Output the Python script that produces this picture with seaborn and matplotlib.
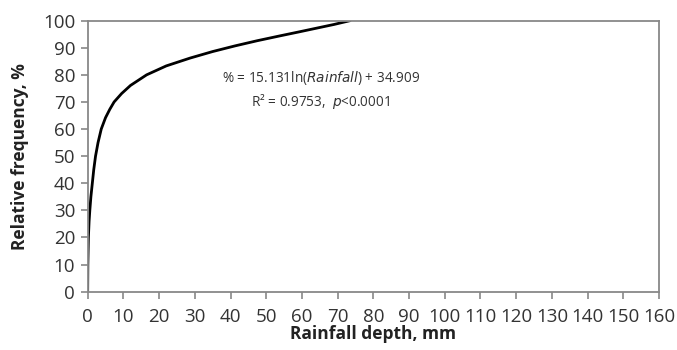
import numpy as np
import pandas as pd
import matplotlib
matplotlib.use('Agg')
import matplotlib.pyplot as plt
import seaborn as sns

# pontos (profundidade de chuva x frequencia relativa)
rainfall_mm = [0, 0.05, 0.2, 0.4, 0.6, 0.9, 1.3, 1.7, 2.2, 2.9, 3.8, 5.0, 6.2,
               7.4, 9.5, 12.0, 16.5, 22.0, 28.7, 35.0, 41.3, 47.5, 53.9, 59.0,
               64.0, 69.0, 73.5]
rel_freq = [0, 10, 20, 26, 30, 35, 40, 45, 50, 55, 60, 64.2, 67.3,
            70, 73.1, 76.1, 80, 83.3, 86.2, 88.6, 90.7, 92.6, 94.4, 95.8,
            97.2, 98.6, 100]

x_ticks = list(range(0, 161, 10))
y_ticks = list(range(0, 101, 10))

eq_line1 = r'% = 15.131ln($\mathit{Rainfall}$) + 34.909'
eq_line2 = r'R² = 0.9753,  $\mathit{p}$<0.0001'

sns.set_style('white')
plt.rcParams['font.family'] = ['Open Sans', 'DejaVu Sans']

df = pd.DataFrame({'rain': rainfall_mm, 'freq': rel_freq})

fig = plt.figure(figsize=(6.77, 3.5), dpi=100)
ax = fig.add_axes([0.1295, 0.1666, 0.8439, 0.7744])

sns.lineplot(data=df, x='rain', y='freq', color='black', linewidth=2.0, ax=ax)

ax.set_xlim(0, 160)
ax.set_ylim(0, 100)
ax.set_xticks(x_ticks)
ax.set_yticks(y_ticks)
ax.tick_params(axis='both', labelsize=13.5, colors='#888888', labelcolor='#333333',
               direction='out', length=5, width=1.2, left=True, bottom=True)
ax.tick_params(axis='x', pad=7)
ax.tick_params(axis='y', pad=4)

for s in ax.spines.values():
    s.set_color('#888888')
    s.set_linewidth(1.3)

ax.set_xlabel('Rainfall depth, mm', fontsize=12.5, fontweight='bold', color='#222222', labelpad=-1)
ax.set_ylabel('Relative frequency, %', fontsize=12.5, fontweight='bold', color='#222222', labelpad=10)

ax.text(65.3, 79, eq_line1, fontsize=9.8, ha='center', va='center', color='#333333')
ax.text(65.3, 70, eq_line2, fontsize=9.8, ha='center', va='center', color='#333333')

fig.savefig('out.png', dpi=100)
